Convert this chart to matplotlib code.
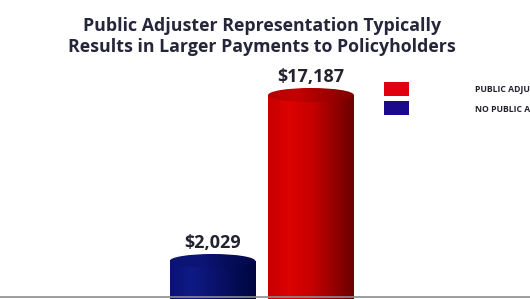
import numpy as np
import matplotlib
matplotlib.use("Agg")
import matplotlib.pyplot as plt
from matplotlib.patches import Rectangle, Ellipse
from matplotlib.colors import LinearSegmentedColormap
from matplotlib.lines import Line2D

# ---- data ----
title_lines = ["Public Adjuster Representation Typically",
               "Results in Larger Payments to Policyholders"]
categories = ["NO PUBLIC ADJUSTER", "PUBLIC ADJUSTER"]
values = [2029, 17187]
value_labels = ["$2,029", "$17,187"]
legend_labels = ["PUBLIC ADJUSTER", "NO PUBLIC ADJUSTER"]

W, H = 530, 299
fig = plt.figure(figsize=(W / 100, H / 100), dpi=100)
fig.patch.set_facecolor("white")
ax = fig.add_axes([0, 0, 1, 1])
ax.set_axis_off()

# scales (pixel calibrated)
px_per_unit_x = 98.5
x_left = -212.5 / px_per_unit_x
px_per_val = 0.010951
y_bottom = -(H - 283.2) / px_per_val

bar_w = 0.87
x_pos = np.arange(len(values))
ell_h = 14 / px_per_val

body_cmaps = [
    LinearSegmentedColormap.from_list("b", ["#0a1272", "#0f1a86", "#0a1370", "#040c55", "#000640"]),
    LinearSegmentedColormap.from_list("r", ["#c80000", "#dc0202", "#c80000", "#9a0000", "#6a0000"]),
]
top_cmaps = [
    LinearSegmentedColormap.from_list("bt", ["#0b1470", "#0c1678", "#060e5a", "#020848"]),
    LinearSegmentedColormap.from_list("rt", ["#b40000", "#c40000", "#a00000", "#800000"]),
]

grad = np.linspace(0, 1, 256).reshape(1, -1)
bars = ax.bar(x_pos, np.array(values) - y_bottom, bottom=y_bottom, width=bar_w,
              color="none", edgecolor="none")
for i, (b, v) in enumerate(zip(bars, values)):
    x0 = b.get_x()
    im = ax.imshow(grad, cmap=body_cmaps[i], aspect="auto",
                   extent=[x0, x0 + bar_w, y_bottom, v], zorder=2)
    im.set_clip_path(b)
    e = Ellipse((x_pos[i], v), bar_w, ell_h, facecolor="none", edgecolor="none", zorder=3)
    ax.add_patch(e)
    im2 = ax.imshow(grad, cmap=top_cmaps[i], aspect="auto",
                    extent=[x0, x0 + bar_w, v - ell_h / 2, v + ell_h / 2], zorder=3)
    im2.set_clip_path(e)
    ax.text(x_pos[i], v + ell_h / 2 + 2 / px_per_val, value_labels[i], ha="center", va="bottom",
            fontsize=13, fontweight="bold", color="#23232f", family="Open Sans")

ax.set_xlim(x_left, x_left + W / px_per_unit_x)
ax.set_ylim(y_bottom, y_bottom + H / px_per_val)

# bottom grey line
fig.add_artist(Line2D([0, 1], [2 / H, 2 / H], color="#8c8c8c", lw=1.2, transform=fig.transFigure))

# title
for line, base in zip(title_lines, [31, 52]):
    fig.text(262 / W, 1 - base / H, line, ha="center", va="baseline", fontsize=12.8,
             fontweight="bold", color="#26263a", family="Open Sans")

# legend
leg_colors = ["#e0000e", "#1c0a8c"]
leg_y = [82, 101]
for c, ly, lab in zip(leg_colors, leg_y, legend_labels):
    fig.add_artist(Rectangle((384 / W, 1 - (ly + 14) / H), 25 / W, 14 / H, facecolor=c,
                             edgecolor="none", transform=fig.transFigure))
    fig.text(475 / W, 1 - (ly + 8) / H, lab, ha="left", va="center", fontsize=6.2,
             fontweight="bold", color="#23232f", family="Open Sans")

fig.savefig("out.png", dpi=100, facecolor="white")
